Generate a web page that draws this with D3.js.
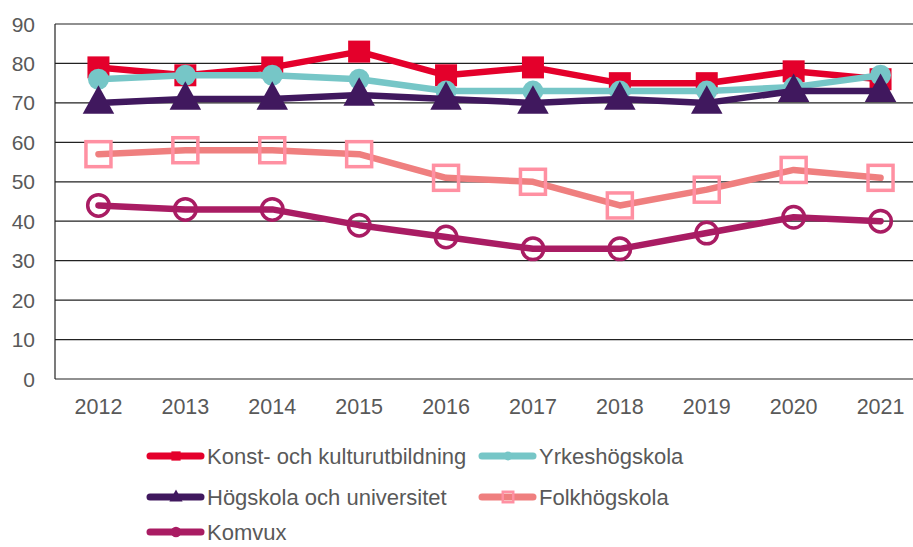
<!DOCTYPE html>
<html>
<head>
<meta charset="utf-8">
<script src="https://cdn.jsdelivr.net/npm/d3@7"></script>
<style>
  html, body { margin: 0; padding: 0; background: #fff; }
  svg { display: block; font-family: "Liberation Sans", Arial, sans-serif; }
</style>
</head>
<body>
<svg id="chart" width="913" height="547"></svg>
<script>
// Years on the x axis
const years = ["2012","2013","2014","2015","2016","2017","2018","2019","2020","2021"];
// Share per education type
const konst    = [79, 77, 79, 83, 77, 79, 75, 75, 78, 76];
const yrkes    = [76, 77, 77, 76, 73, 73, 73, 73, 74, 77];
const hogskola = [70, 71, 71, 72, 71, 70, 71, 70, 73, 73];
const folk     = [57, 58, 58, 57, 51, 50, 44, 48, 53, 51];
const komvux   = [44, 43, 43, 39, 36, 33, 33, 37, 41, 40];
const yTicks   = [0, 10, 20, 30, 40, 50, 60, 70, 80, 90];

const series = [
  { name: "Konst- och kulturutbildning", values: konst,    line: "#e4002b", marker: "square",  fill: "#e4002b", stroke: "none",    size: 22 },
  { name: "Yrkeshögskola",               values: yrkes,    line: "#76c6c7", marker: "circle",  fill: "#76c6c7", stroke: "none",    size: 21 },
  { name: "Högskola och universitet",    values: hogskola, line: "#40185e", marker: "triangle",fill: "#40185e", stroke: "none",    size: 30 },
  { name: "Folkhögskola",                values: folk,     line: "#ef7f7f", marker: "square",  fill: "none",    stroke: "#ff90a2", size: 25 },
  { name: "Komvux",                      values: komvux,   line: "#a91c63", marker: "circle",  fill: "none",    stroke: "#a91c63", size: 25 }
];

const svg = d3.select("#chart");
const plotLeft = 55, plotRight = 924, plotTop = 24, plotBottom = 379, gridRight = 913;

const x = d3.scaleBand().domain(years).range([plotLeft, plotRight]);
const y = d3.scaleLinear().domain([0, 90]).range([plotBottom, plotTop]);
const cx = d => x(d) + x.bandwidth() / 2;

// horizontal gridlines
svg.append("g").selectAll("line").data(yTicks).join("line")
  .attr("x1", plotLeft).attr("x2", gridRight)
  .attr("y1", d => y(d)).attr("y2", d => y(d))
  .attr("stroke", "#222").attr("stroke-width", 1.2);

// left axis line
svg.append("line").attr("x1", plotLeft).attr("x2", plotLeft).attr("y1", plotTop).attr("y2", plotBottom)
  .attr("stroke", "#222").attr("stroke-width", 1.2);

// y tick labels
svg.append("g").selectAll("text").data(yTicks).join("text")
  .attr("x", 35).attr("y", d => y(d)).attr("dy", "0.36em")
  .attr("text-anchor", "end").attr("font-size", 21).attr("fill", "#595959")
  .text(d => d);

// x tick labels
svg.append("g").selectAll("text").data(years).join("text")
  .attr("x", d => cx(d)).attr("y", 414)
  .attr("text-anchor", "middle").attr("font-size", 21.5).attr("fill", "#595959")
  .text(d => d);

function drawMarker(g, s, px, py, scale) {
  const sz = s.size * scale;
  const sw = (s.stroke === "none" ? 0 : 3.5) * Math.max(scale, 0.7);
  if (s.marker === "square") {
    g.append("rect").attr("x", px - sz / 2).attr("y", py - sz / 2)
      .attr("width", sz).attr("height", sz)
      .attr("fill", s.fill).attr("stroke", s.stroke).attr("stroke-width", sw);
  } else if (s.marker === "circle") {
    g.append("circle").attr("cx", px).attr("cy", py).attr("r", sz / 2 - sw / 2)
      .attr("fill", s.fill).attr("stroke", s.stroke).attr("stroke-width", sw);
  } else {
    const h = sz * 0.95, w = sz * 1.05;
    g.append("path")
      .attr("d", `M${px},${py - h * 0.62} L${px + w / 2},${py + h * 0.38} L${px - w / 2},${py + h * 0.38} Z`)
      .attr("fill", s.fill);
  }
}

const line = d3.line().x((d, i) => cx(years[i])).y(d => y(d));

series.forEach(s => {
  const g = svg.append("g");
  g.append("path").datum(s.values).attr("d", line)
    .attr("fill", "none").attr("stroke", s.line).attr("stroke-width", 6.5)
    .attr("stroke-linejoin", "round").attr("stroke-linecap", "round");
  s.values.forEach((v, i) => drawMarker(g, s, cx(years[i]), y(v), 1));
});

// legend
const legendItems = [
  { s: series[0], x: 147, y: 456 },
  { s: series[1], x: 479, y: 456 },
  { s: series[2], x: 147, y: 497 },
  { s: series[3], x: 479, y: 497 },
  { s: series[4], x: 147, y: 532 }
];
legendItems.forEach(({ s, x: lx, y: ly }) => {
  const g = svg.append("g");
  g.append("line").attr("x1", lx + 3).attr("x2", lx + 54).attr("y1", ly).attr("y2", ly)
    .attr("stroke", s.line).attr("stroke-width", 7).attr("stroke-linecap", "round");
  drawMarker(g, s, lx + 29, ly, 0.42);
  g.append("text").attr("x", lx + 60).attr("y", ly).attr("dy", "0.36em")
    .attr("font-size", 22).attr("fill", "#595959").text(s.name);
});
</script>
</body>
</html>
